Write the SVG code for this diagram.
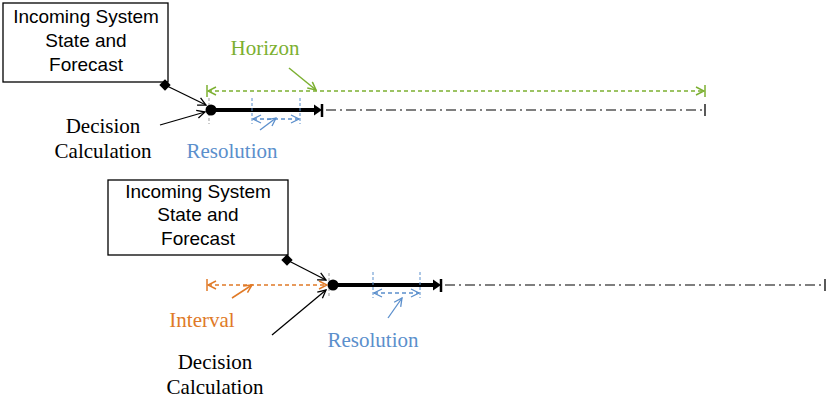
<svg xmlns="http://www.w3.org/2000/svg" width="830" height="407" viewBox="0 0 830 407">
<style>
.box{fill:#fff;stroke:#000;stroke-width:1.3}
.bt{font-family:"Liberation Sans",Arial,sans-serif;font-size:19px;text-anchor:middle}
.st{font-family:"Liberation Serif","Times New Roman",serif;font-size:21px;text-anchor:middle}
.thin{stroke:#000;stroke-width:1.3;fill:none}
.thick{stroke:#000;stroke-width:4}
.dd{stroke:#000;stroke-width:1.2;stroke-dasharray:10 4 2 4}
.gv{stroke:#999;stroke-width:1;stroke-dasharray:3 2}
.bv{stroke:#5b8fcc;stroke-width:1;stroke-dasharray:3 2}
.g{stroke:#7cb031;stroke-width:1.5;fill:none}
.b{stroke:#5b8fcc;stroke-width:1.3;fill:none}
.o{stroke:#e07a27;stroke-width:1.5;fill:none}
</style>
<defs>
<marker id="ao" markerWidth="10" markerHeight="10" refX="9" refY="5" orient="auto-start-reverse" markerUnits="userSpaceOnUse"><path d="M1,1 L9,5 L1,9" fill="none" stroke="#000" stroke-width="1.3"/></marker>
<marker id="ag" markerWidth="10" markerHeight="10" refX="9" refY="5" orient="auto-start-reverse" markerUnits="userSpaceOnUse"><path d="M1,1 L9,5 L1,9" fill="none" stroke="#7cb031" stroke-width="1.5"/></marker>
<marker id="ab" markerWidth="10" markerHeight="10" refX="9" refY="5" orient="auto-start-reverse" markerUnits="userSpaceOnUse"><path d="M1,1 L9,5 L1,9" fill="none" stroke="#5b8fcc" stroke-width="1.3"/></marker>
<marker id="aor" markerWidth="10" markerHeight="10" refX="9" refY="5" orient="auto-start-reverse" markerUnits="userSpaceOnUse"><path d="M1,1 L9,5 L1,9" fill="none" stroke="#e07a27" stroke-width="1.5"/></marker>
</defs>
<g id="top-box"><rect class="box" x="3" y="3" width="165" height="79"/>
<text class="bt" x="86" y="23">Incoming System</text><text class="bt" x="86" y="47">State and</text><text class="bt" x="86" y="71">Forecast</text></g>
<g id="bottom-box"><rect class="box" x="108" y="180" width="180" height="75"/>
<text class="bt" x="198" y="198">Incoming System</text><text class="bt" x="198" y="221">State and</text><text class="bt" x="198" y="245">Forecast</text></g>
<g id="labels">
<text class="st" x="265" y="55" fill="#7cb031">Horizon</text>
<text class="st" x="232" y="158" fill="#5b8fcc">Resolution</text>
<text class="st" x="103" y="133">Decision</text><text class="st" x="103" y="158">Calculation</text>
<text class="st" x="202" y="327" fill="#e07a27">Interval</text>
<text class="st" x="373" y="347" fill="#5b8fcc">Resolution</text>
<text class="st" x="215" y="369">Decision</text><text class="st" x="215" y="394">Calculation</text>
</g>
<g id="connectors">
<!-- top timeline -->
<line class="gv" x1="209" y1="98" x2="209" y2="124"/>
<line class="thick" x1="210" y1="110" x2="316" y2="110"/>
<path d="M314,104.5 L322,110 L314,115.5 Z"/>
<line x1="322" y1="104" x2="322" y2="117" stroke="#000" stroke-width="2.5"/>
<line class="dd" x1="326" y1="110" x2="705" y2="110"/>
<line class="thin" x1="705" y1="104" x2="705" y2="116"/>
<circle cx="211" cy="110" r="5.5"/>
<rect x="161" y="81" width="8" height="8" transform="rotate(45 165 85)"/>
<line class="thin" x1="165" y1="85" x2="206" y2="105" marker-end="url(#ao)"/>
<line class="thin" x1="160" y1="125" x2="205" y2="112" marker-end="url(#ao)"/>
<line class="g" x1="207" y1="85" x2="207" y2="97"/>
<line class="g" x1="705" y1="85" x2="705" y2="97"/>
<line class="g" x1="208" y1="91" x2="704" y2="91" stroke-dasharray="4 3" marker-start="url(#ag)" marker-end="url(#ag)"/>
<line class="g" x1="289" y1="68" x2="316" y2="90" marker-end="url(#ag)"/>
<line class="bv" x1="252" y1="98" x2="252" y2="124"/>
<line class="bv" x1="300" y1="98" x2="300" y2="124"/>
<line class="b" x1="253" y1="119" x2="299" y2="119" stroke-dasharray="4 3" marker-start="url(#ab)" marker-end="url(#ab)"/>
<line class="b" x1="260" y1="130" x2="276" y2="118" marker-end="url(#ab)"/>
<!-- bottom timeline -->
<line class="gv" x1="329" y1="273" x2="329" y2="298"/>
<line class="thick" x1="332" y1="285" x2="435" y2="285"/>
<path d="M433,279.5 L441,285 L433,290.5 Z"/>
<line x1="441" y1="279" x2="441" y2="292" stroke="#000" stroke-width="2.5"/>
<line class="dd" x1="445" y1="285" x2="825" y2="285"/>
<line class="thin" x1="825" y1="279" x2="825" y2="291"/>
<circle cx="333" cy="285" r="5.5"/>
<rect x="283" y="256" width="8" height="8" transform="rotate(45 287 260)"/>
<line class="thin" x1="287" y1="260" x2="326" y2="280" marker-end="url(#ao)"/>
<line class="thin" x1="272" y1="335" x2="326" y2="290" marker-end="url(#ao)"/>
<line class="o" x1="207" y1="279" x2="207" y2="291"/>
<line class="o" x1="208" y1="285" x2="327" y2="285" stroke-dasharray="4 3" marker-start="url(#aor)" marker-end="url(#aor)"/>
<line class="o" x1="232" y1="298" x2="252" y2="285" marker-end="url(#aor)"/>
<line class="bv" x1="373" y1="272" x2="373" y2="298"/>
<line class="bv" x1="420" y1="272" x2="420" y2="298"/>
<line class="b" x1="374" y1="293" x2="419" y2="293" stroke-dasharray="4 3" marker-start="url(#ab)" marker-end="url(#ab)"/>
<line class="b" x1="388" y1="318" x2="402" y2="298" marker-end="url(#ab)"/>
</g>
</svg>
